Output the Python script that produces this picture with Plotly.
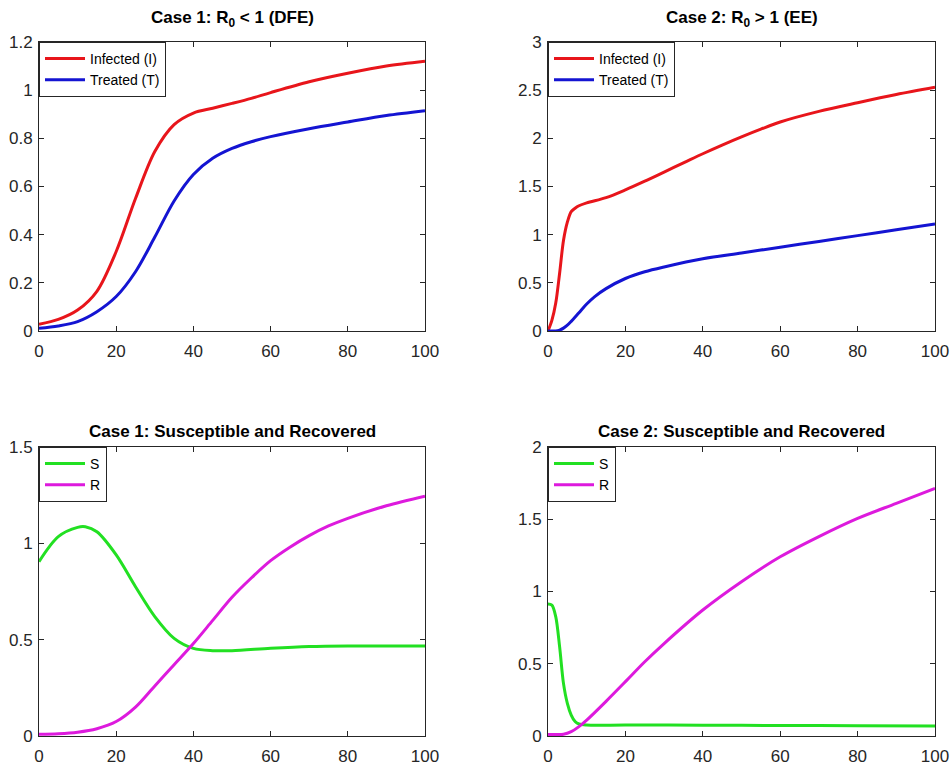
import plotly.graph_objects as go

# ---------------- data ----------------
t1 = [0, 5, 10, 15, 20, 25, 30, 35, 40, 45, 50, 55, 60, 70, 80, 90, 100]
I1 = [0.028, 0.048, 0.087, 0.165, 0.33, 0.55, 0.745, 0.857, 0.905, 0.925, 0.945, 0.966, 0.99, 1.035, 1.07, 1.10, 1.12]
T1 = [0.011, 0.021, 0.039, 0.08, 0.143, 0.246, 0.39, 0.54, 0.65, 0.717, 0.758, 0.786, 0.807, 0.84, 0.868, 0.895, 0.915]

tS1 = [0, 5, 10, 12, 15, 20, 25, 30, 35, 40, 45, 50, 60, 70, 80, 90, 100]
S1 = [0.905, 1.035, 1.083, 1.086, 1.06, 0.94, 0.775, 0.62, 0.507, 0.455, 0.443, 0.443, 0.455, 0.464, 0.467, 0.467, 0.467]
tR1 = [0, 5, 10, 15, 20, 25, 30, 35, 40, 45, 50, 55, 60, 65, 70, 75, 80, 90, 100]
R1 = [0.009, 0.012, 0.02, 0.038, 0.075, 0.15, 0.26, 0.37, 0.48, 0.60, 0.72, 0.82, 0.91, 0.98, 1.04, 1.09, 1.13, 1.195, 1.245]

tI2 = [0, 1, 2, 3, 4, 5, 6, 7, 8, 10, 15, 20, 25, 30, 35, 40, 45, 50, 55, 60, 70, 80, 90, 100]
I2 = [0.0, 0.11, 0.29, 0.6, 0.94, 1.13, 1.24, 1.275, 1.30, 1.33, 1.385, 1.465, 1.555, 1.65, 1.745, 1.84, 1.93, 2.015, 2.095, 2.17, 2.28, 2.37, 2.455, 2.53]
tT2 = [0, 2, 3, 4, 5, 6, 8, 10, 12, 15, 20, 25, 30, 40, 50, 60, 70, 80, 90, 100]
T2 = [0.0, 0.0, 0.01, 0.03, 0.06, 0.10, 0.19, 0.28, 0.355, 0.44, 0.545, 0.615, 0.665, 0.75, 0.81, 0.87, 0.93, 0.99, 1.05, 1.11]

tS2 = [0, 1, 2, 3, 4, 5, 6, 7, 8, 10, 20, 40, 60, 80, 100]
S2 = [0.913, 0.906, 0.826, 0.618, 0.364, 0.226, 0.145, 0.10, 0.083, 0.076, 0.076, 0.075, 0.073, 0.071, 0.07]
tR2 = [0, 2, 4, 6, 8, 10, 15, 20, 25, 30, 40, 50, 60, 70, 80, 90, 100]
R2 = [0.01, 0.01, 0.012, 0.03, 0.065, 0.11, 0.24, 0.376, 0.514, 0.64, 0.872, 1.068, 1.24, 1.38, 1.506, 1.61, 1.714]

x_ticks = [0, 20, 40, 60, 80, 100]
y_ticks_11 = [0, 0.2, 0.4, 0.6, 0.8, 1, 1.2]
y_ticks_12 = [0, 0.5, 1, 1.5, 2, 2.5, 3]
y_ticks_21 = [0, 0.5, 1, 1.5]
y_ticks_22 = [0, 0.5, 1, 1.5, 2]

titles = ["Case 1: R<sub>0</sub> < 1 (DFE)", "Case 2: R<sub>0</sub> > 1 (EE)",
          "Case 1: Susceptible and Recovered", "Case 2: Susceptible and Recovered"]

# ---------------- style ----------------
FW, FH = 951, 772
OFF = 0   # body margin removed by post_script
FONT = "Liberation Sans, Arial, sans-serif"
AX = "#262626"
RED, BLUE, GREEN, MAG = "#e8151b", "#1414d2", "#22e022", "#dd1add"

def px_x(p):
    return (p - OFF) / FW

def px_y(p):
    return 1 - (p - OFF) / FH

xdom_l = [px_x(39), px_x(425)]
xdom_r = [px_x(548), px_x(935)]
ydom_t = [px_y(331), px_y(42)]
ydom_b = [px_y(736), px_y(447)]

fig = go.Figure()

def add(x, y, name, color, xa, ya, legend):
    fig.add_trace(go.Scatter(x=x, y=y, name=name, mode="lines",
                             line=dict(color=color, width=3, shape="spline", smoothing=0.9),
                             xaxis=xa, yaxis=ya, legend=legend))

add(t1, I1, "Infected (I)", RED, "x", "y", "legend")
add(t1, T1, "Treated (T)", BLUE, "x", "y", "legend")
add(tI2, I2, "Infected (I)", RED, "x2", "y2", "legend2")
add(tT2, T2, "Treated (T)", BLUE, "x2", "y2", "legend2")
add(tS1, S1, "S", GREEN, "x3", "y3", "legend3")
add(tR1, R1, "R", MAG, "x3", "y3", "legend3")
add(tS2, S2, "S", GREEN, "x4", "y4", "legend4")
add(tR2, R2, "R", MAG, "x4", "y4", "legend4")

def xaxis(dom, anchor):
    return dict(domain=dom, anchor=anchor, range=[0, 100], tickvals=x_ticks,
                ticktext=[str(v) for v in x_ticks], automargin=False,
                ticklabeloverflow="allow",
                showline=True, linecolor=AX, linewidth=1, mirror="allticks",
                ticks="inside", ticklen=5, tickcolor=AX, showgrid=False, zeroline=False,
                tickfont=dict(family=FONT, size=17, color=AX), ticklabelstandoff=5)

def yaxis(dom, anchor, rng, vals):
    return dict(domain=dom, anchor=anchor, range=rng, tickvals=vals,
                ticktext=[("%g" % v) for v in vals], automargin=False,
                ticklabeloverflow="allow",
                showline=True, linecolor=AX, linewidth=1, mirror="allticks",
                ticks="inside", ticklen=5, tickcolor=AX, showgrid=False, zeroline=False,
                tickfont=dict(family=FONT, size=17, color=AX), ticklabelstandoff=2)

def legend(xd, yd):
    return dict(x=xd[0], y=yd[1], xanchor="left", yanchor="top",
                bgcolor="white", bordercolor=AX, borderwidth=1,
                font=dict(family=FONT, size=14, color="black"),
                itemwidth=40, tracegroupgap=0)

annotations = []
for txt, xd, yp in [(titles[0], xdom_l, 19), (titles[1], xdom_r, 19),
                    (titles[2], xdom_l, 431), (titles[3], xdom_r, 431)]:
    annotations.append(dict(text="<b>" + txt + "</b>", x=(xd[0] + xd[1]) / 2, y=px_y(yp),
                            xref="paper", yref="paper", xanchor="center", yanchor="middle",
                            borderpad=0,
                            showarrow=False, font=dict(family=FONT, size=17, color="black")))

fig.update_layout(
    width=FW, height=FH, margin=dict(l=0, r=0, t=0, b=0, autoexpand=False),
    paper_bgcolor="white", plot_bgcolor="white",
    xaxis=xaxis(xdom_l, "y"), yaxis=yaxis(ydom_t, "x", [0, 1.2], y_ticks_11),
    xaxis2=xaxis(xdom_r, "y2"), yaxis2=yaxis(ydom_t, "x2", [0, 3], y_ticks_12),
    xaxis3=xaxis(xdom_l, "y3"), yaxis3=yaxis(ydom_b, "x3", [0, 1.5], y_ticks_21),
    xaxis4=xaxis(xdom_r, "y4"), yaxis4=yaxis(ydom_b, "x4", [0, 2], y_ticks_22),
    legend=legend(xdom_l, ydom_t), legend2=legend(xdom_r, ydom_t),
    legend3=legend(xdom_l, ydom_b), legend4=legend(xdom_r, ydom_b),
    annotations=annotations, showlegend=True,
)

fig.write_html("out.html", config={"displayModeBar": False},
               post_script="document.body.style.margin='0';document.body.style.overflow='hidden';")
